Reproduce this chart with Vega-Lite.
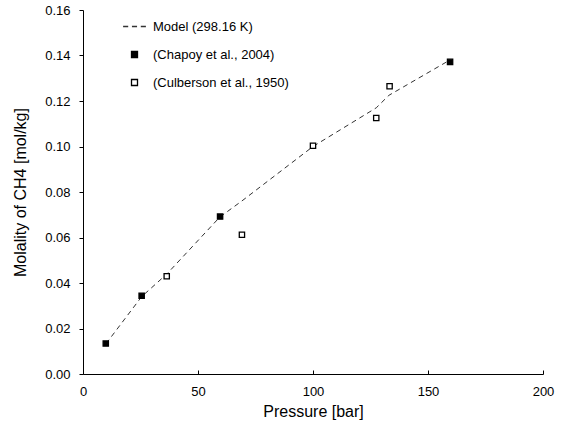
{
  "$schema": "https://vega.github.io/schema/vega-lite/v6.json",
  "width": 460,
  "height": 364,
  "autosize": {"type": "none"},
  "padding": {"left": 83, "top": 10, "right": 19, "bottom": 53},
  "background": "white",
  "config": {
    "view": {"stroke": null},
    "font": "Liberation Sans",
    "axis": {
      "grid": false,
      "domain": true,
      "ticks": true,
      "domainColor": "black",
      "domainWidth": 1,
      "tickColor": "black",
      "tickWidth": 1,
      "labelColor": "black",
      "titleColor": "black",
      "labelFont": "Liberation Sans",
      "titleFont": "Liberation Sans",
      "labelFontSize": 13,
      "titleFontSize": 16,
      "titleFontWeight": "normal"
    }
  },
  "data": {
    "values": [
      {"series": "Model (298.16 K)", "P": 10, "m": 0.0133},
      {"series": "Model (298.16 K)", "P": 25.5, "m": 0.0340},
      {"series": "Model (298.16 K)", "P": 36.5, "m": 0.0440},
      {"series": "Model (298.16 K)", "P": 59.5, "m": 0.0690},
      {"series": "Model (298.16 K)", "P": 69, "m": 0.0760},
      {"series": "Model (298.16 K)", "P": 100, "m": 0.1000},
      {"series": "Model (298.16 K)", "P": 127.5, "m": 0.1170},
      {"series": "Model (298.16 K)", "P": 133, "m": 0.1225},
      {"series": "Model (298.16 K)", "P": 159.5, "m": 0.1380},
      {"series": "(Chapoy et al., 2004)", "P": 9.9, "m": 0.0134},
      {"series": "(Chapoy et al., 2004)", "P": 25.5, "m": 0.0344},
      {"series": "(Chapoy et al., 2004)", "P": 59.6, "m": 0.0692},
      {"series": "(Chapoy et al., 2004)", "P": 159.6, "m": 0.1372},
      {"series": "(Culberson et al., 1950)", "P": 36.4, "m": 0.0430},
      {"series": "(Culberson et al., 1950)", "P": 69.1, "m": 0.0612},
      {"series": "(Culberson et al., 1950)", "P": 100, "m": 0.1003},
      {"series": "(Culberson et al., 1950)", "P": 127.5, "m": 0.1125},
      {"series": "(Culberson et al., 1950)", "P": 133.3, "m": 0.1265}
    ]
  },
  "encoding": {
    "x": {
      "field": "P", "type": "quantitative",
      "scale": {"domain": [0, 200], "nice": false, "zero": false},
      "axis": {"values": [0, 50, 100, 150, 200], "title": "Pressure [bar]", "labelFlush": false, "tickSize": -4, "labelPadding": 15, "titlePadding": 5}
    },
    "y": {
      "field": "m", "type": "quantitative",
      "scale": {"domain": [0, 0.16], "nice": false},
      "axis": {"values": [0, 0.02, 0.04, 0.06, 0.08, 0.1, 0.12, 0.14, 0.16], "format": ".2f", "title": "Molality of CH4 [mol/kg]", "labelFlush": false, "tickSize": 4, "labelPadding": 9, "titlePadding": 16}
    }
  },
  "layer": [
    {
      "transform": [{"filter": "datum.series === 'Model (298.16 K)'"}],
      "mark": {"type": "line", "color": "#333333", "strokeWidth": 1, "strokeDash": [5, 4]}
    },
    {
      "transform": [{"filter": "datum.series !== 'Model (298.16 K)'"}],
      "mark": {"type": "point", "filled": false, "size": 28, "strokeWidth": 1.3, "opacity": 1},
      "encoding": {
        "shape": {
          "field": "series", "type": "nominal",
          "scale": {
            "domain": ["Model (298.16 K)", "(Chapoy et al., 2004)", "(Culberson et al., 1950)"],
            "range": ["M-3.8,0H-2.1M-0.85,0H0.85M2.1,0H3.8", "square", "square"]
          },
          "legend": {
            "title": null,
            "orient": "none",
            "legendX": 45,
            "legendY": 10,
            "padding": 0,
            "symbolSize": 36,
            "symbolStrokeWidth": 1.3,
            "labelFontSize": 13,
            "labelFont": "Liberation Sans",
            "labelColor": "black",
            "labelOffset": 12,
            "rowPadding": 14
          }
        },
        "fill": {
          "field": "series", "type": "nominal",
          "scale": {
            "domain": ["Model (298.16 K)", "(Chapoy et al., 2004)", "(Culberson et al., 1950)"],
            "range": ["transparent", "black", "white"]
          }
        },
        "stroke": {
          "field": "series", "type": "nominal",
          "scale": {
            "domain": ["Model (298.16 K)", "(Chapoy et al., 2004)", "(Culberson et al., 1950)"],
            "range": ["#333333", "black", "black"]
          }
        }
      }
    }
  ]
}
